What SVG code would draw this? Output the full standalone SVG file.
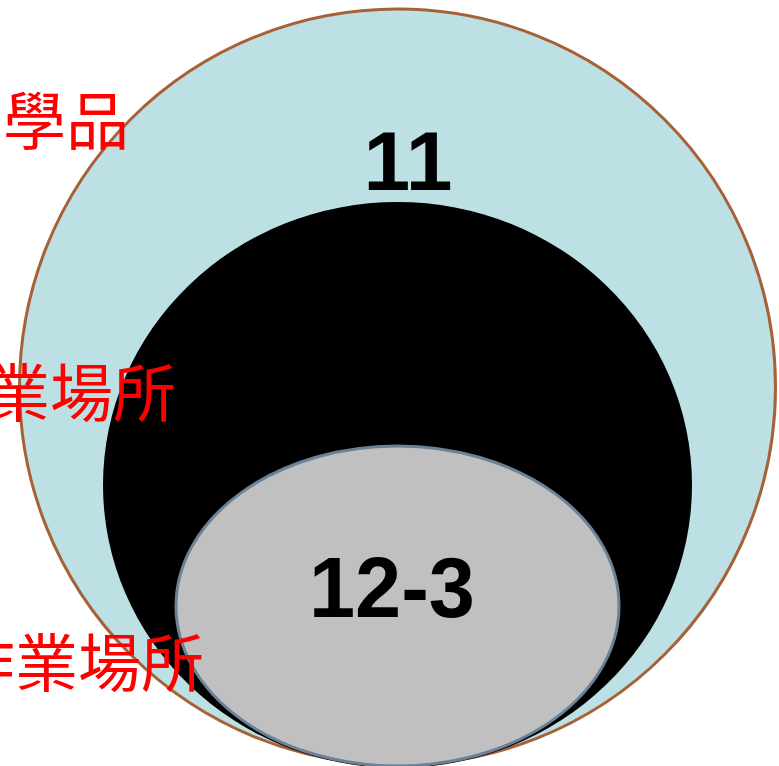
<svg xmlns="http://www.w3.org/2000/svg" width="779" height="766" viewBox="0 0 779 766">
<style>
.num{font-family:"Liberation Sans",Arial,sans-serif;font-weight:bold;fill:#000;text-anchor:middle}
.lbl{font-family:"Noto Sans CJK TC","Noto Sans CJK SC",sans-serif;fill:#FF0000;text-anchor:end;font-size:63px}
</style>
<rect width="779" height="766" fill="#fff"/>
<g id="outer">
<circle cx="397.5" cy="387" r="378" fill="#BCE0E4" stroke="#A66236" stroke-width="3"/>
<text class="num" x="408" y="190" font-size="84">11</text>
</g>
<g id="middle">
<ellipse cx="397.5" cy="485" rx="294.5" ry="283" fill="#000"/>
</g>
<g id="inner">
<ellipse cx="397.5" cy="606" rx="221.5" ry="160" fill="#C0C0C0" stroke="#6A8298" stroke-width="3"/>
<text class="num" x="392" y="617" font-size="86" textLength="166" lengthAdjust="spacingAndGlyphs">12-3</text>
</g>
<g id="labels">
<text class="lbl" x="129" y="144">化學品</text>
<text class="lbl" x="176" y="416">業場所</text>
<text class="lbl" x="204" y="686">作業場所</text>
</g>
<g id="connectors"></g>
</svg>
